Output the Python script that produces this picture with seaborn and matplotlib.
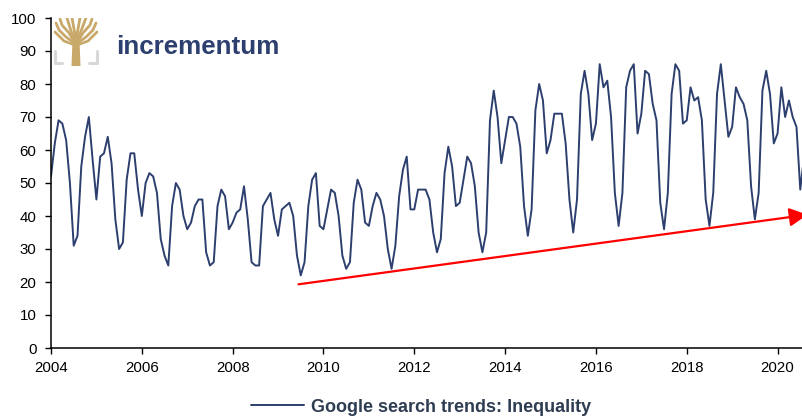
import numpy as np
import pandas as pd
import matplotlib
matplotlib.use('Agg')
import matplotlib.pyplot as plt
import seaborn as sns

# monthly Google search trend index for "Inequality", Jan 2004 - Aug 2020
y2004 = [52, 62, 69, 68, 63, 50, 31, 34, 55, 64, 70, 57]
y2005 = [45, 58, 59, 64, 56, 39, 30, 32, 51, 59, 59, 48]
y2006 = [40, 50, 53, 52, 47, 33, 28, 25, 43, 50, 48, 40]
y2007 = [36, 38, 43, 45, 45, 29, 25, 26, 43, 48, 46, 36]
y2008 = [38, 41, 42, 49, 39, 26, 25, 25, 43, 45, 47, 39]
y2009 = [34, 42, 43, 44, 40, 28, 22, 26, 43, 51, 53, 37]
y2010 = [36, 42, 48, 47, 40, 28, 24, 26, 44, 51, 48, 38]
y2011 = [37, 43, 47, 45, 40, 30, 24, 31, 46, 54, 58, 42]
y2012 = [42, 48, 48, 48, 45, 35, 29, 33, 53, 61, 55, 43]
y2013 = [44, 51, 58, 56, 49, 35, 29, 35, 69, 78, 70, 56]
y2014 = [63, 70, 70, 68, 61, 43, 34, 42, 72, 80, 75, 59]
y2015 = [63, 71, 71, 71, 62, 45, 35, 45, 77, 84, 77, 63]
y2016 = [68, 86, 79, 81, 70, 47, 37, 47, 79, 84, 86, 65]
y2017 = [71, 84, 83, 74, 69, 44, 36, 47, 77, 86, 84, 68]
y2018 = [69, 79, 75, 76, 69, 45, 37, 47, 77, 86, 75, 64]
y2019 = [67, 79, 76, 74, 69, 49, 39, 47, 78, 84, 77, 62]
y2020 = [65, 79, 70, 75, 70, 67, 48, 58]

values = (y2004 + y2005 + y2006 + y2007 + y2008 + y2009 + y2010 + y2011 + y2012
          + y2013 + y2014 + y2015 + y2016 + y2017 + y2018 + y2019 + y2020)
df = pd.DataFrame({'year': 2004 + np.arange(len(values)) / 12, 'value': values})

# trend arrow (start / end in data units)
trend_start = (2009.45, 19.3)
trend_end = (2020.66, 40.4)

year_ticks = [2004, 2006, 2008, 2010, 2012, 2014, 2016, 2018, 2020]
value_ticks = [0, 10, 20, 30, 40, 50, 60, 70, 80, 90, 100]

navy = '#2C3F6E'
gold = '#C8A96A'

sns.set_style('ticks')
plt.rcParams['font.family'] = ['Liberation Sans', 'DejaVu Sans']

W, H = 803, 418
fig = plt.figure(figsize=(W / 100, H / 100), dpi=100)
ax = fig.add_axes([51 / W, 1 - 348 / H, (W - 51) / W, (348 - 18) / H])

sns.lineplot(data=df, x='year', y='value', color=navy, linewidth=1.4,
             label='Google search trends: Inequality', ax=ax)

ax.annotate('', xy=trend_end, xytext=trend_start, annotation_clip=False,
            arrowprops=dict(arrowstyle='-|>,head_length=0.55,head_width=0.28',
                            color='#FF0000', lw=1.6, mutation_scale=20,
                            shrinkA=0, shrinkB=0))

ax.set_xlim(2004, 2020.56)
ax.set_ylim(0, 100)
ax.set_xticks(year_ticks)
ax.set_yticks(value_ticks)
ax.set_xlabel('')
ax.set_ylabel('')
ax.tick_params(axis='both', labelsize=10.8, colors='black', length=4, width=1, direction='out')
ax.tick_params(axis='x', pad=5.5)
ax.tick_params(axis='y', pad=6.5)
for s in ['top', 'right']:
    ax.spines[s].set_visible(False)
for s in ['left', 'bottom']:
    ax.spines[s].set_color('black')
    ax.spines[s].set_linewidth(1.1)

leg = ax.legend(loc='center', bbox_to_anchor=((421 - 51) / (W - 51), -(407 - 348) / (348 - 18)),
                frameon=False, handlelength=2.9, handletextpad=0.4,
                prop={'weight': 'bold', 'size': 13})
for t in leg.get_texts():
    t.set_color('#2F3D52')

# logo: small tree icon + wordmark
lg = fig.add_axes([53 / W, 1 - 68 / H, 46 / W, 50 / H])
lg.set_xlim(53, 99)
lg.set_ylim(68, 18)
lg.axis('off')
lg.fill([71.5, 80.5, 79.5, 72.5], [66, 66, 40, 40], color=gold, lw=0)
branches = [
    [(76, 44), (66, 37), (59, 30), (56, 23)],
    [(76, 44), (69, 33), (62, 25), (60, 19)],
    [(76, 42), (71, 31), (67, 18)],
    [(76, 40), (74, 29), (72, 18)],
    [(76, 40), (78, 29), (80, 18)],
    [(76, 42), (81, 31), (86, 18)],
    [(76, 44), (83, 33), (90, 25), (92, 19)],
    [(76, 44), (86, 37), (93, 30), (96, 23)],
    [(75, 45), (64, 41), (55, 32)],
    [(77, 45), (88, 41), (97, 32)],
]
for br in branches:
    bx, by = zip(*br)
    lg.plot(bx, by, color=gold, lw=2.0, solid_capstyle='round', solid_joinstyle='round')
lg.plot([55, 55, 62], [51, 63, 63], color='#D8D8D8', lw=2.2)
lg.plot([89, 97, 97], [63, 63, 51], color='#D8D8D8', lw=2.2)

fig.text(116 / W, 1 - 54 / H, 'incrementum', color=navy, fontsize=18.7,
         fontweight='bold', ha='left', va='baseline')

fig.savefig('out.png', dpi=100)
